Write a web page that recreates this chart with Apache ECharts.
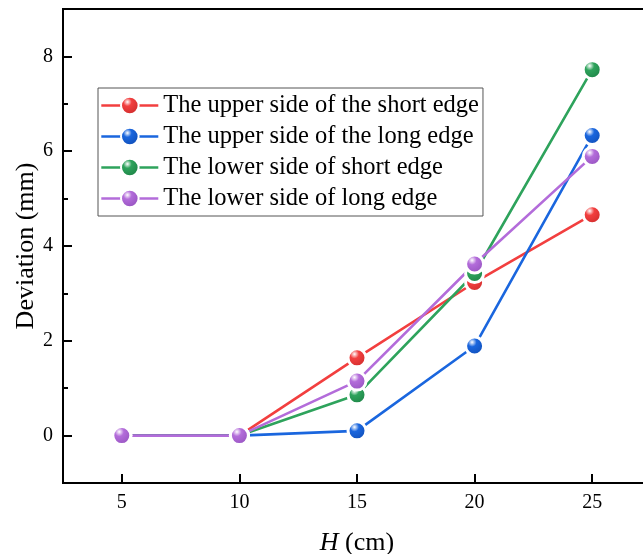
<!DOCTYPE html>
<html>
<head>
<meta charset="utf-8">
<script src="https://cdn.jsdelivr.net/npm/echarts@6/dist/echarts.min.js"></script>
<style>
  html, body { margin: 0; padding: 0; background: #fff; }
  #main { width: 643px; height: 554px; }
</style>
</head>
<body>
<div id="main"></div>
<script>
var hValues = [5, 10, 15, 20, 25]
var upperShort = [0, 0, 1.64, 3.23, 4.66]
var upperLong = [0, 0, 0.1, 1.89, 6.33]
var lowerShort = [0, 0, 0.86, 3.42, 7.72]
var lowerLong = [0, 0, 1.15, 3.62, 5.89]
var xTicks = [5, 10, 15, 20, 25]
var yTicks = [0, 2, 4, 6, 8]
var yMinorTicks = [1, 3, 5, 7]

var font = 'Liberation Serif'

// shiny ball look of the markers
function sphere(base, dark) {
  return new echarts.graphic.RadialGradient(0.38, 0.32, 0.72, [
    { offset: 0, color: '#ffffff' },
    { offset: 0.3, color: base },
    { offset: 1, color: dark }
  ])
}

function makeSeries(name, vals, base, dark) {
  return {
    name: name,
    type: 'line',
    data: hValues.map(function (h, i) { return [h, vals[i]] }),
    symbol: 'circle',
    symbolSize: 18,
    lineStyle: { color: base, width: 2.6 },
    itemStyle: { color: sphere(base, dark), borderColor: '#fff', borderWidth: 3 },
    emphasis: { disabled: true },
    z: 2
  }
}

var myChart = echarts.init(document.getElementById('main'))
var option = {
  animation: false,
  textStyle: { fontFamily: font },
  grid: {
    left: 63, top: 9, right: -8, bottom: 71,
    outerBoundsMode: 'none',
    show: true, borderColor: '#000', borderWidth: 2
  },
  legend: {
    orient: 'vertical',
    left: 98, top: 88,
    padding: [5, 4, 5, 2],
    itemGap: 6,
    itemWidth: 57,
    itemHeight: 22,
    borderColor: '#555',
    borderWidth: 1,
    lineStyle: { width: 2.6 },
    textStyle: { fontFamily: font, fontSize: 24.5, color: '#000', lineHeight: 24 }
  },
  xAxis: {
    type: 'value',
    min: 2.5, max: 27.5,
    name: '{i|H} (cm)',
    nameLocation: 'middle',
    nameGap: 47,
    nameMoveOverlap: false,
    nameTextStyle: {
      fontFamily: font, fontSize: 26, color: '#000',
      rich: { i: { fontFamily: font, fontSize: 26, fontStyle: 'italic', color: '#000' } }
    },
    axisLine: { show: true, onZero: false, lineStyle: { color: '#000', width: 2 } },
    axisTick: { show: true, inside: true, length: 9, lineStyle: { color: '#000', width: 2 }, customValues: xTicks },
    axisLabel: { fontFamily: font, fontSize: 20, color: '#000', margin: 10, customValues: xTicks },
    splitLine: { show: false }
  },
  yAxis: [{
    type: 'value',
    min: -1, max: 9,
    name: 'Deviation (mm)',
    nameLocation: 'middle',
    nameGap: 24,
    nameMoveOverlap: false,
    nameTextStyle: { fontFamily: font, fontSize: 26, color: '#000' },
    axisLine: { show: true, onZero: false, lineStyle: { color: '#000', width: 2 } },
    axisTick: { show: true, inside: true, length: 9, lineStyle: { color: '#000', width: 2 }, customValues: yTicks },
    axisLabel: { fontFamily: font, fontSize: 20, color: '#000', margin: 10, customValues: yTicks },
    splitLine: { show: false }
  }, {
    type: 'value',
    position: 'left',
    min: -1, max: 9,
    axisLine: { show: false, onZero: false },
    axisTick: { show: true, inside: true, length: 5, lineStyle: { color: '#000', width: 2 }, customValues: yMinorTicks },
    axisLabel: { show: false },
    splitLine: { show: false }
  }],
  series: [
    makeSeries('The upper side of the short edge', upperShort, '#f23f3f', '#cc2a2a'),
    makeSeries('The upper side of the long edge', upperLong, '#1a66de', '#0f4cb4'),
    makeSeries('The lower side of short edge', lowerShort, '#2ea35c', '#1c8044'),
    makeSeries('The lower side of long edge', lowerLong, '#b36cda', '#9350bd')
  ]
}
myChart.setOption(option)
</script>
</body>
</html>
